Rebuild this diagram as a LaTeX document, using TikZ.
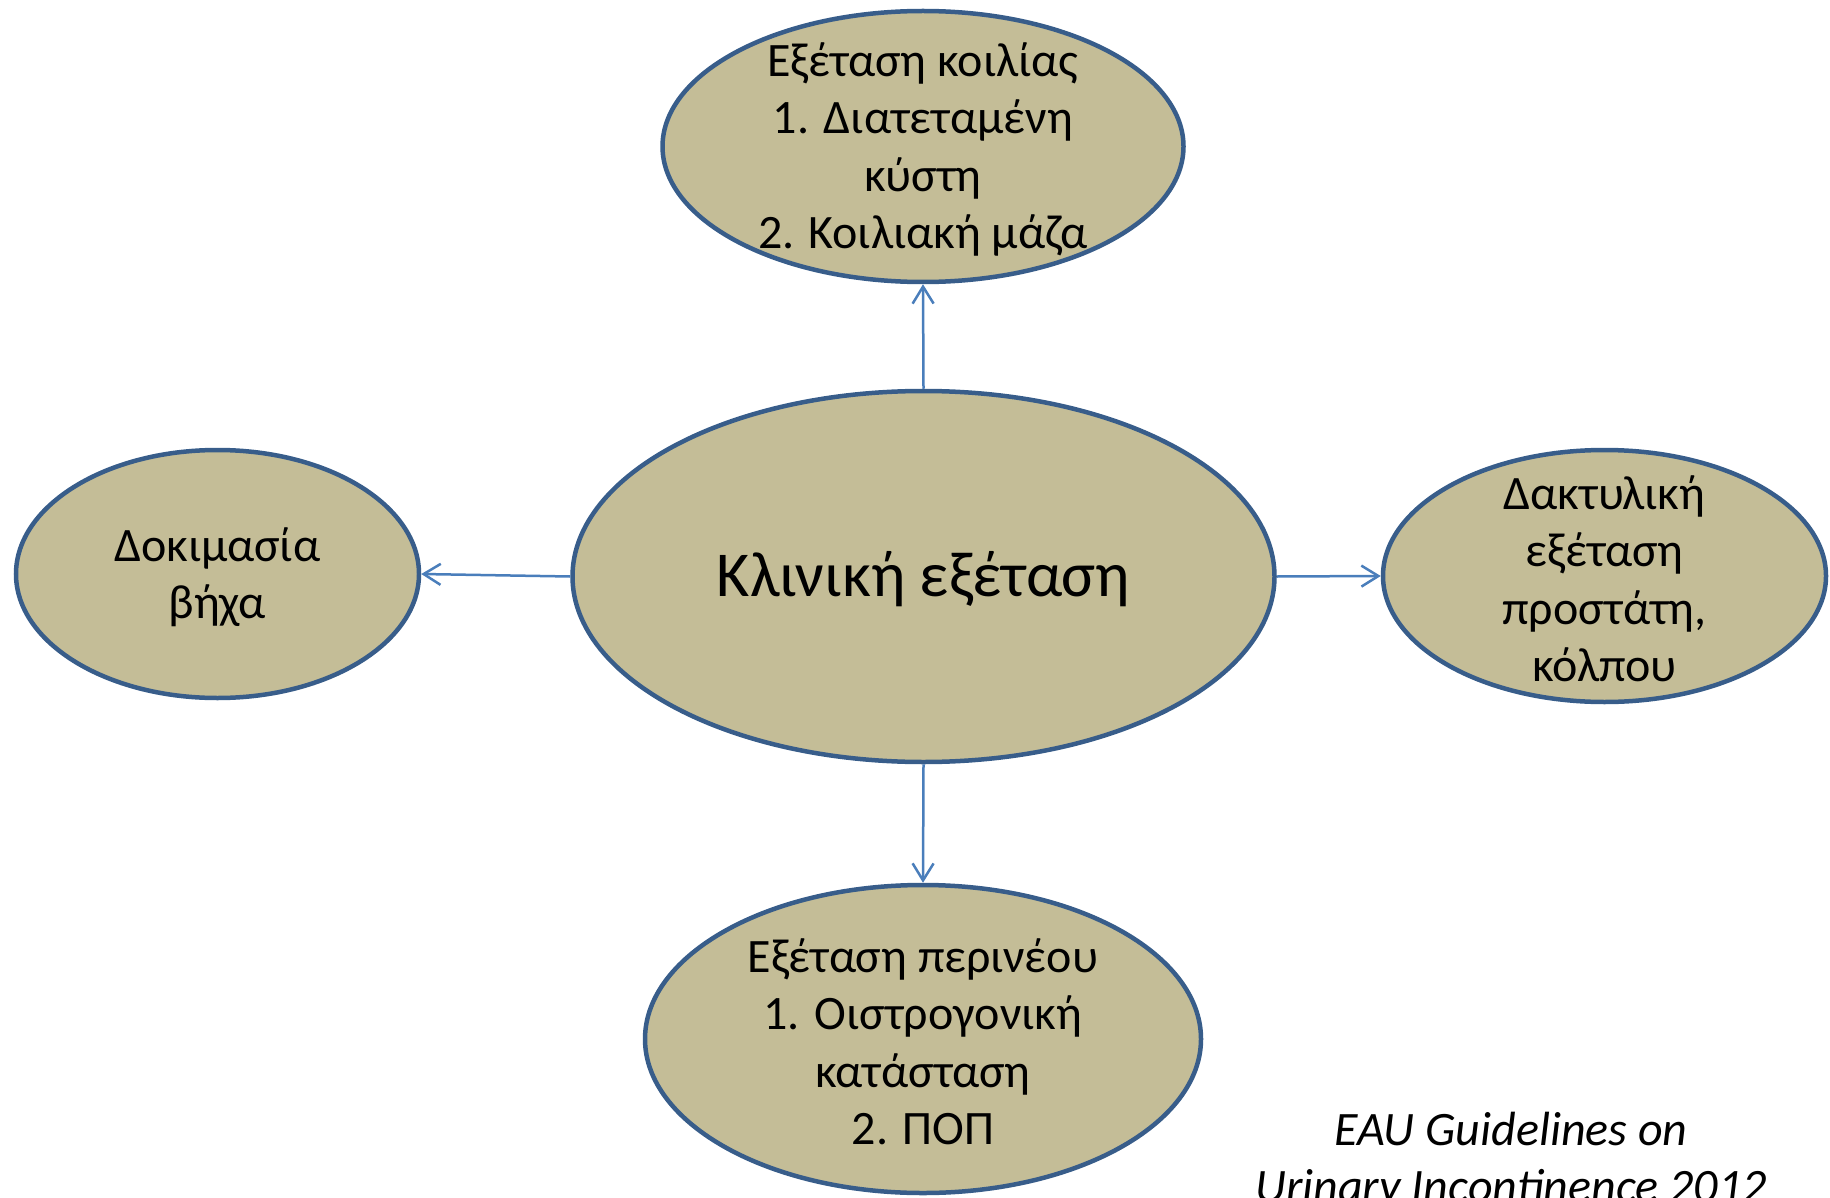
\documentclass[tikz,border=0pt]{standalone}
\usepackage{fontspec}
\setmainfont{Carlito}
\usetikzlibrary{shapes.geometric,arrows.meta}
\definecolor{bubblefill}{HTML}{C4BD97}
\definecolor{bubbleline}{HTML}{385D8A}
\definecolor{connline}{HTML}{4A7EBB}
\begin{document}
\begin{tikzpicture} [x=1pt, y=-1pt,
        bubble/.style = {shape=ellipse, draw=bubbleline, fill=bubblefill, line width=4.5pt, inner sep=0pt},
        txt/.style = {align=center, inner sep=0pt, yshift=-3pt, font=\fontsize{48}{57.5}\selectfont},
        conn/.style = {draw=connline, line width=2.5pt, -{Straight Barb[length=17pt, width=21pt]}}]
        \useasboundingbox (0,0) rectangle (1830,1198);
        % ellipses
        \node [bubble, minimum width=702pt, minimum height=371pt] (exam) at (923.5,576.5) {};
        \node [bubble, minimum width=521pt, minimum height=271pt] (abdomen) at (923,146.5) {};
        \node [bubble, minimum width=403pt, minimum height=248pt] (cough) at (217.5,574) {};
        \node [bubble, minimum width=443pt, minimum height=252pt] (rectal) at (1604.5,576) {};
        \node [bubble, minimum width=556pt, minimum height=308pt] (perineum) at (923,1039) {};
        % texts
        \node [txt, font=\fontsize{64}{76}\selectfont] (examT) at (exam) {Κλινική εξέταση};
        \node [txt] (abdomenT) at (abdomen) {Εξέταση κοιλίας\\1. Διατεταμένη\\κύστη\\2. Κοιλιακή μάζα};
        \node [txt] (coughT) at (cough) {Δοκιμασία\\βήχα};
        \node [txt] (rectalT) at (rectal) {Δακτυλική\\εξέταση\\προστάτη,\\κόλπου};
        \node [txt] (perineumT) at (perineum) {Εξέταση περινέου\\1. Οιστρογονική\\κατάσταση\\2. ΠΟΠ};
        \node [txt, font=\fontsize{48}{57.5}\selectfont\itshape] (source) at (1511,1158) {EAU Guidelines on\\Urinary Incontinence 2012};
        % arrows
        \draw [conn] (exam.north) -- (abdomen.south);
        \draw [conn] (exam.west) -- (cough.east);
        \draw [conn] (exam.east) -- (rectal.west);
        \draw [conn] (exam.south) -- (perineum.north);
\end{tikzpicture}
\end{document}
